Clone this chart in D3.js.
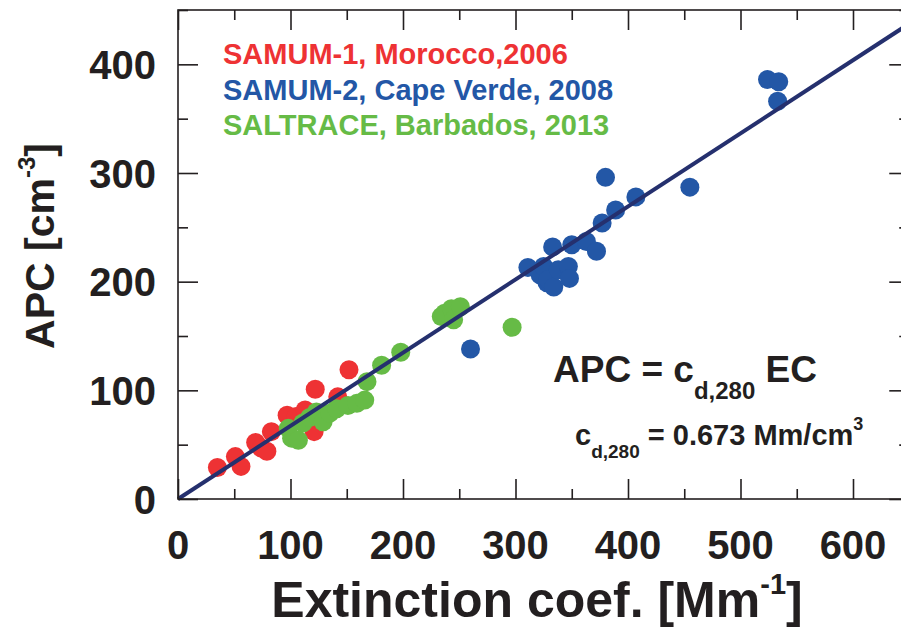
<!DOCTYPE html>
<html>
<head>
<meta charset="utf-8">
<script src="https://cdn.jsdelivr.net/npm/d3@7"></script>
<style>
  html, body { margin: 0; padding: 0; background: #fff; }
  svg { display: block; font-family: "Liberation Sans", Arial, Helvetica, sans-serif; font-weight: bold; }
</style>
</head>
<body>
<svg id="chart" width="901" height="627"></svg>
<script>
// Extinction coefficient [Mm^-1] vs. APC [cm^-3] for three dust campaigns
const samum1 = [
  [35, 29], [51, 39], [56, 30], [69, 52], [74, 47], [79, 44], [83, 62],
  [97, 77], [105, 76], [113, 82], [121, 62], [122, 101], [142, 94], [152, 119]
];
const saltrace = [
  [98, 65], [101, 56], [107, 54], [111, 70], [117, 75], [123, 80], [129, 71],
  [135, 79], [141, 83], [151, 86], [159, 88], [166, 91], [168, 108], [181, 123],
  [198, 135], [234, 168], [237, 171], [243, 175], [245, 165], [251, 177], [297, 158]
];
const samum2 = [
  [260, 138], [311, 213], [322, 206], [325, 214], [328, 199], [329, 202], [334, 195],
  [338, 211], [333, 232], [347, 214], [348, 203], [350, 234], [363, 237], [372, 228],
  [377, 254], [380, 296], [389, 266], [407, 278], [455, 287], [524, 386], [534, 384],
  [533, 366]
];
const campaigns = ["SAMUM-1, Morocco,2006", "SAMUM-2, Cape Verde, 2008", "SALTRACE, Barbados, 2013"];
const xMajorTicks = [0, 100, 200, 300, 400, 500, 600];
const xMinorTicks = [50, 150, 250, 350, 450, 550, 650];
const yMajorTicks = [0, 100, 200, 300, 400];
const yMinorTicks = [50, 150, 250, 350, 450];
const slope = 0.673; // c_d,280 in Mm/cm^3

const colors = { red: "#ee3234", blue: "#2357a6", green: "#66bb46", fit: "#25306e" };

const svg = d3.select("#chart");
const plotLeft = 178, plotTop = 10, plotRight = 909.25, plotBottom = 499;

const x = d3.scaleLinear().domain([0, 650]).range([plotLeft, plotRight]);
const y = d3.scaleLinear().domain([0, 450]).range([plotBottom, plotTop]);

// points
const series = [
  { data: samum1, color: colors.red },
  { data: saltrace, color: colors.green },
  { data: samum2, color: colors.blue }
];
series.forEach(s => {
  svg.append("g").selectAll("circle").data(s.data).join("circle")
    .attr("cx", d => x(d[0])).attr("cy", d => y(d[1]))
    .attr("r", 9.5).attr("fill", s.color);
});

// fit line APC = c * EC
const fitLine = d3.line().x(d => x(d)).y(d => y(slope * d));
svg.append("path").datum([0, 650]).attr("d", fitLine)
  .attr("fill", "none").attr("stroke", colors.fit).attr("stroke-width", 4);

// frame
svg.append("rect").attr("x", plotLeft).attr("y", plotTop)
  .attr("width", plotRight - plotLeft).attr("height", plotBottom - plotTop)
  .attr("fill", "none").attr("stroke", "#231f20").attr("stroke-width", 1.6);

// inward ticks on all four sides
function tickAxis(axisFn, scale, values, size, transform) {
  const ax = axisFn(scale).tickValues(values).tickSize(size).tickFormat("");
  const g = svg.append("g").attr("transform", transform).call(ax);
  g.select(".domain").remove();
  g.selectAll(".tick line").attr("stroke", "#231f20").attr("stroke-width", 1.6);
  return g;
}
tickAxis(d3.axisBottom, x, xMajorTicks, -20, `translate(0,${plotBottom})`);
tickAxis(d3.axisBottom, x, xMinorTicks, -10, `translate(0,${plotBottom})`);
tickAxis(d3.axisTop, x, xMajorTicks, -20, `translate(0,${plotTop})`);
tickAxis(d3.axisTop, x, xMinorTicks, -10, `translate(0,${plotTop})`);
tickAxis(d3.axisLeft, y, yMajorTicks, -20, `translate(${plotLeft},0)`);
tickAxis(d3.axisLeft, y, yMinorTicks, -10, `translate(${plotLeft},0)`);
tickAxis(d3.axisRight, y, yMajorTicks, -20, `translate(${plotRight},0)`);
tickAxis(d3.axisRight, y, yMinorTicks, -10, `translate(${plotRight},0)`);

// tick labels
svg.append("g").selectAll("text").data(xMajorTicks).join("text")
  .attr("x", d => x(d)).attr("y", 559)
  .attr("text-anchor", "middle").attr("font-size", 40).attr("fill", "#231f20")
  .text(d => d);
svg.append("g").selectAll("text").data(yMajorTicks).join("text")
  .attr("x", 156).attr("y", d => y(d) + 14.5)
  .attr("text-anchor", "end").attr("font-size", 40).attr("fill", "#231f20")
  .text(d => d);

// axis titles
const xt = svg.append("text").attr("x", 537).attr("y", 617)
  .attr("text-anchor", "middle").attr("font-size", 50).attr("fill", "#231f20");
xt.append("tspan").text("Extinction coef. [Mm");
xt.append("tspan").attr("font-size", 29).attr("dy", -23).text("-1");
xt.append("tspan").attr("dy", 23).text("]");

const yt = svg.append("text").attr("transform", "translate(54,246) rotate(-90)")
  .attr("text-anchor", "middle").attr("font-size", 41).attr("fill", "#231f20");
yt.append("tspan").text("APC [cm");
yt.append("tspan").attr("font-size", 24).attr("dy", -19).text("-3");
yt.append("tspan").attr("dy", 19).text("]");

// legend
const legendColors = [colors.red, colors.blue, colors.green];
svg.append("g").selectAll("text").data(campaigns).join("text")
  .attr("x", 223).attr("y", (d, i) => 64 + i * 35.5)
  .attr("font-size", 29).attr("fill", (d, i) => legendColors[i])
  .text(d => d);

// equation
const eq = svg.append("text").attr("x", 553).attr("y", 382)
  .attr("font-size", 37).attr("fill", "#231f20");
eq.append("tspan").text("APC = c");
eq.append("tspan").attr("font-size", 24).attr("dy", 17).text("d,280");
eq.append("tspan").attr("dy", -17).text(" EC");

const cv = svg.append("text").attr("x", 575).attr("y", 445)
  .attr("font-size", 29).attr("fill", "#231f20");
cv.append("tspan").text("c");
cv.append("tspan").attr("font-size", 19).attr("dy", 13).text("d,280");
cv.append("tspan").attr("dy", -13).text(" = " + slope + " Mm/cm");
cv.append("tspan").attr("font-size", 18).attr("dy", -15).text("3");
</script>
</body>
</html>
